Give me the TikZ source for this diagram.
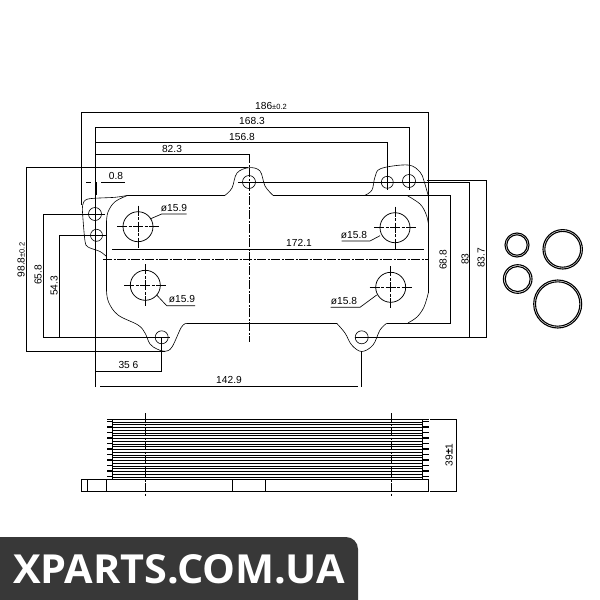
\documentclass[tikz,border=0pt]{standalone}
\usepackage{fontspec}
\setmainfont{Liberation Sans}
\newfontfamily\markfont{Open Sans}
\usetikzlibrary{patterns.meta}
\tikzset{
  dimline/.style={line width=0.85pt,black},
  outline/.style={line width=0.6pt,black},
  centerline/.style={line width=0.65pt,dash pattern=on 9pt off 1.5pt on 2pt off 1.5pt},
  crossline/.style={line width=0.65pt,dash pattern=on 10pt off 1.5pt on 3pt off 1.5pt},
  dimtext/.style={font=\fontsize{10.2}{11}\selectfont,inner sep=0pt},
  ring/.style={line width=1.1pt,black},
}
\begin{document}
\begin{tikzpicture}[x=1pt,y=-1pt]
\useasboundingbox (0,0) rectangle (600,600);
\fill[white] (0,0) rectangle (600,600);

% --- plate outline
\draw[outline] plot[smooth,tension=0.6] coordinates {(225,195.3) (232,188) (237,173) (249,167.7) (260,171) (265,186) (273,195.3)};
\draw[outline] plot[smooth,tension=0.6] coordinates {(365,195.3) (372,190) (375,177) (381,168.5) (408,165) (420,172) (424,181) (428.3,196)};
\draw[outline] (128,195.3) -- (225,195.3) (273,195.3) -- (428.3,195.3);
\draw[outline] plot[smooth,tension=0.6] coordinates {(406.7,195.3) (420,204) (426,214) (428.3,223)};
\draw[outline] (428.3,196) -- (428.3,293);
\draw[outline] plot[smooth,tension=0.6] coordinates {(428.3,293) (424,307) (417,317) (408,322.9)};
\draw[outline] (408,323.3) -- (386.7,323.3);
\draw[outline] plot[smooth,tension=0.6] coordinates {(386.7,323.3) (380,330) (373,345) (361.7,351.5) (351.7,345) (345,333) (336.7,323.3)};
\draw[outline] (336.7,323.3) -- (187,323.3);
\draw[outline] plot[smooth,tension=0.6] coordinates {(187,323.3) (181.5,327) (172,347) (165,351.3) (157,349) (150,344) (145,333) (138,325) (118,315) (108.5,302) (106.5,290)};
\draw[outline] (106.5,290) -- (106.5,222);
\draw[outline] plot[smooth,tension=0.6] coordinates {(106.5,222) (108,212) (115,201.7) (128,195.3)};
\draw[outline] plot[smooth,tension=0.5] coordinates {(128,195.3) (115,197.3) (88,199) (82.7,205) (82.7,215) (85,241) (88,247) (100,251.5) (106.5,256.5)};

% --- small holes
\foreach \cx/\cy/\rr in {95/214/6.5,96.5/235.3/6,161.7/337.3/6.5,249/182/6.5,387.3/182.3/6,409/181/6.5,361.7/337.3/6.5}
  \draw[outline] (\cx,\cy) circle (\rr);

% --- large holes with cross lines
\foreach \cx/\cy in {138/226.7,145.3/285.3,395/227.7,390.7/287.3}{
  \draw[outline,line width=0.75pt] (\cx,\cy) circle (15);
  \draw[crossline] (\cx-21,\cy) -- (\cx+21,\cy);
  \draw[crossline] (\cx,\cy-21) -- (\cx,\cy+21);
}

% --- centre lines
\draw[centerline] (103,259.3) -- (428,259.3);
\draw[centerline] (249.5,154.3) -- (249.5,341.7);

% --- dimension lines, top
\draw[dimline] (81.3,205) -- (81.3,112.3) -- (428.3,112.3) -- (428.3,223);
\draw[dimline] (95.5,387) -- (95.5,127.3) -- (409.3,127.3) -- (409.3,190);
\draw[dimline] (95.5,142.3) -- (387.3,142.3) -- (387.3,190);
\draw[dimline] (95.5,154.3) -- (249.5,154.3);
% --- 98.8
\draw[dimline] (248,167.3) -- (26.7,167.3) -- (26.7,351.3) -- (165,351.3);
% --- 65.8 and 54.3
\draw[dimline] (105,214.3) -- (43.3,214.3) -- (43.3,337.3) -- (170,337.3);
\draw[dimline] (107,235) -- (59,235) -- (59,337.3);
% --- 0.8
\draw[dimline] (86,182) -- (91,182);
\draw[dimline] (96,182) -- (96,195);
\draw[dimline] (101,182) -- (125,182);
% --- 172.1
\draw[dimline] (112.3,249.3) -- (424,249.3);
% --- right
\draw[dimline] (238,182) -- (469.3,182) -- (469.3,337.3);
\draw[dimline] (426.7,180.3) -- (486.7,180.3) -- (486.7,337.3) -- (355,337.3);
\draw[dimline] (406,195.3) -- (450,195.3) -- (450,323.3) -- (408,323.3);
% --- bottom
\draw[dimline] (95.5,371.3) -- (161.7,371.3) -- (161.7,337.3);
\draw[dimline] (100,386.3) -- (358,386.3);
\draw[dimline] (361.7,351.3) -- (361.7,387);

% --- diameter leaders
\draw[dimline,line width=0.65pt] (150,219) -- (161.7,214) -- (186.7,214);
\draw[dimline,line width=0.65pt] (156.7,295) -- (166.7,305.7) -- (195,305.7);
\draw[dimline,line width=0.65pt] (380,235.7) -- (370,241) -- (341.7,241);
\draw[dimline,line width=0.65pt] (376.7,295) -- (360,307.3) -- (330.7,307.3);

% --- texts
\node[dimtext] (d186) at (271,106) {186{\fontsize{7.5}{8}\selectfont ±0.2}};
\node[dimtext] (d168) at (252,121) {168.3};
\node[dimtext] (d156) at (242,137) {156.8};
\node[dimtext] (d82) at (172,149) {82.3};
\node[dimtext] (d08) at (116,176) {0.8};
\node[dimtext] (dia1) at (174,208) {ø15.9};
\node[dimtext] (dia2) at (182,299) {ø15.9};
\node[dimtext] (dia3) at (354,235) {ø15.8};
\node[dimtext] (dia4) at (344,301) {ø15.8};
\node[dimtext] (d172) at (299,243) {172.1};
\node[dimtext] (d35) at (128.5,365) {35 6};
\node[dimtext] (d142) at (229,380) {142.9};
\node[dimtext,rotate=90] (d98) at (21,260) {98.8{\fontsize{7.5}{8}\selectfont ±0.2}};
\node[dimtext,rotate=90] (d65) at (38,275) {65.8};
\node[dimtext,rotate=90] (d54) at (54,286) {54.3};
\node[dimtext,rotate=90] (d68) at (443,260) {68.8};
\node[dimtext,rotate=90] (d83) at (465,259) {83};
\node[dimtext,rotate=90] (d837) at (481,258) {83.7};
\node[dimtext,rotate=90] (d39) at (449,455) {39{\bfseries ±}1};

% --- rings
\foreach \cx/\cy/\rr in {517/245/12,562.7/249.3/19.7,517.7/279/14.3,557.7/304/24}{
  \draw[ring] (\cx,\cy) circle (\rr);
  \draw[ring] (\cx,\cy) circle (\rr-1.8);
}

% --- side view: fins
\foreach \k in {0,...,21}{
  \pgfmathsetmacro{\yy}{419.3+\k*2.75}
  \draw[line width=0.7pt] (112.7,\yy) -- (422.7,\yy);
}
\draw[line width=0.7pt] (107.3,419.3) -- (428.7,419.3);
\foreach \k in {0,...,10}{
  \pgfmathsetmacro{\yy}{420.5+\k*5.5}
  \fill (107.3,\yy) rectangle (112.9,\yy+1.6);
  \fill (422.5,\yy) rectangle (428.7,\yy+1.6);
}
\draw[line width=0.7pt] (112.7,420) -- (112.7,479.3);
\draw[line width=0.7pt] (422.7,420) -- (422.7,479.3);
% --- base
\draw[line width=0.75pt] (81.3,479.3) rectangle (428.7,491.3);
\foreach \xx in {87.3,106.3,232.3,265.3}
  \draw[line width=0.75pt] (\xx,479.3) -- (\xx,491.3);
\draw[centerline] (145.3,413) -- (145.3,496.7);
\draw[centerline] (391.3,413) -- (391.3,496.7);
% --- 39 dim
\draw[dimline] (430,419.3) -- (456,419.3) -- (456,491.3) -- (430,491.3);

% --- watermark
\fill[black!78] (0,600) -- (0,537) -- (346,537) arc[start angle=-90,end angle=0,radius=12] -- (358,600) -- cycle;
\node[font=\markfont\bfseries\fontsize{40}{40}\selectfont,text=white,inner sep=0pt,anchor=base,xscale=1.035] (mark) at (179,583) {XPARTS.COM.UA};
\end{tikzpicture}
\end{document}
